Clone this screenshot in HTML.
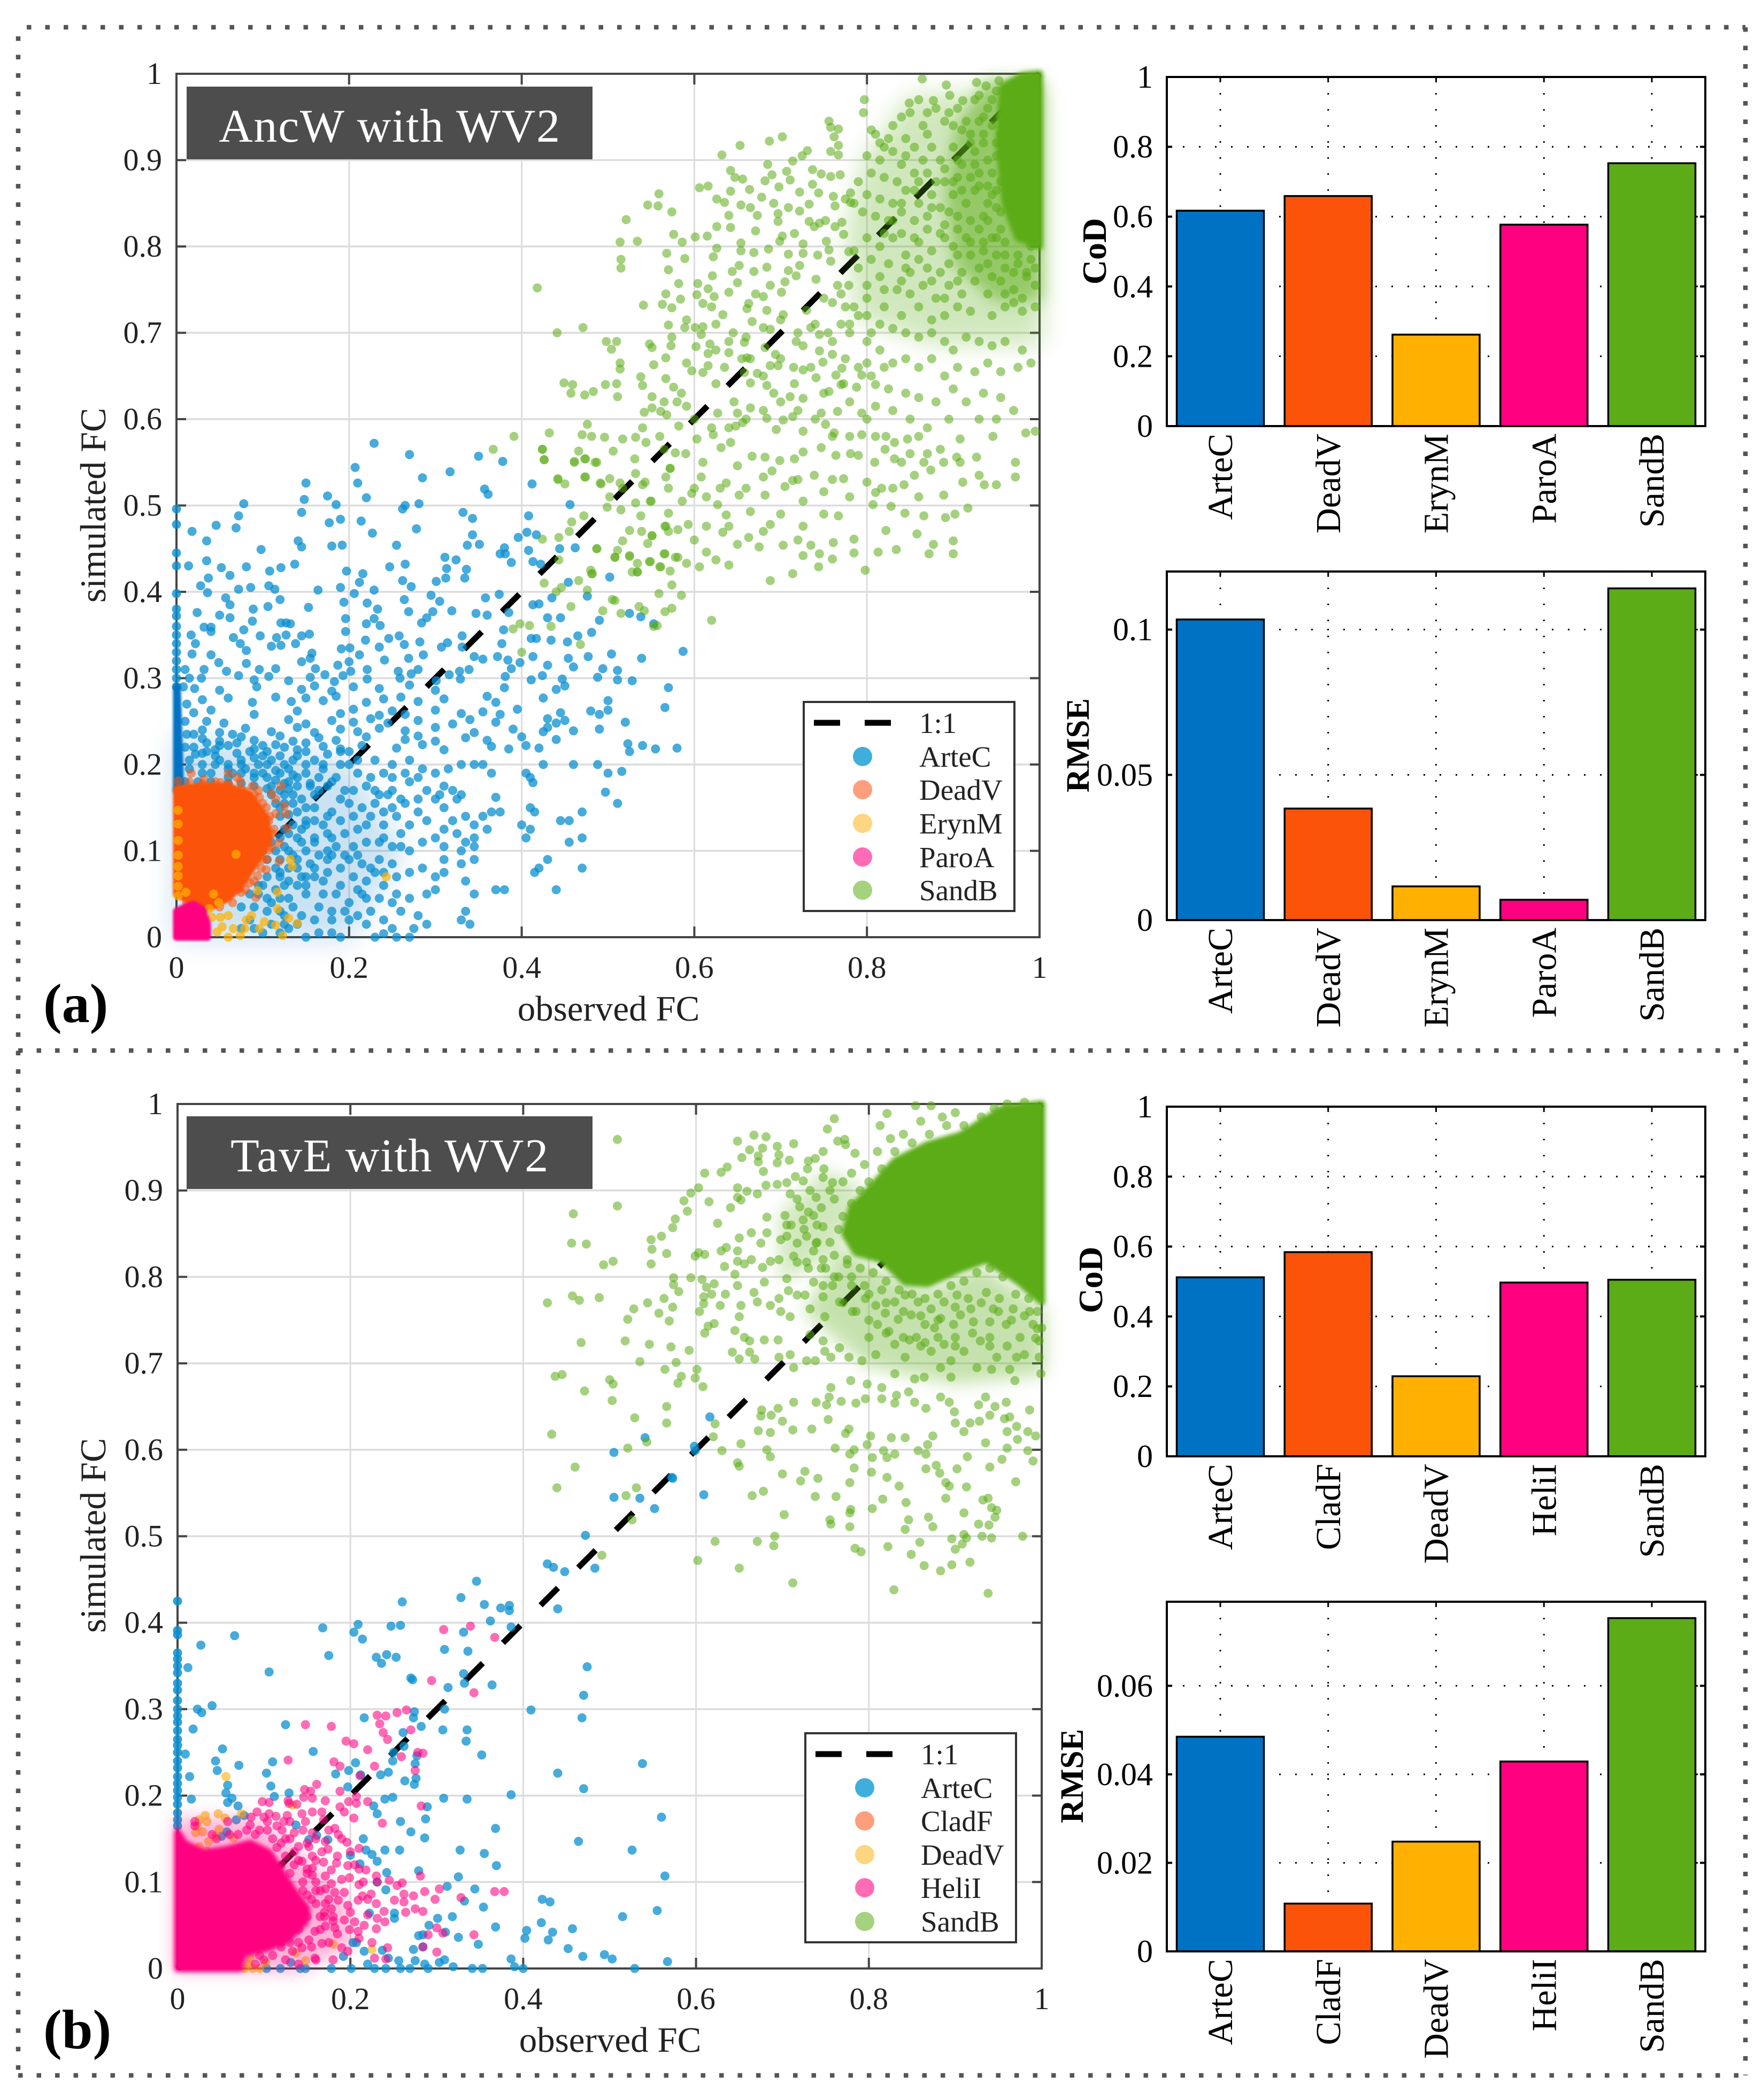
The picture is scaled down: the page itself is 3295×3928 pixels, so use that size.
<!DOCTYPE html>
<html lang="en">
<head>
<meta charset="utf-8">
<title>Observed versus simulated FC scatter plots with CoD and RMSE bars</title>
<style>
html,body{margin:0;padding:0;background:#fff}
svg{display:block}
text{font-family:"Liberation Serif","DejaVu Serif",serif;fill:#222}
</style>
</head>
<body>
<svg id="figure" xmlns="http://www.w3.org/2000/svg" width="3295" height="3928" viewBox="0 0 3295 3928">
<rect width="3295" height="3928" fill="#fff"/>
<g id="frame" stroke="#555" stroke-width="8.5" stroke-dasharray="8.5 26" fill="none">
<line x1="50" y1="51" x2="3264" y2="51"/>
<line x1="34" y1="68" x2="34" y2="3882"/>
<line x1="3264" y1="51" x2="3264" y2="3882"/>
<line x1="34" y1="3882" x2="3264" y2="3882"/>
<line x1="34" y1="1965" x2="3264" y2="1965"/>
</g>
<g id="layerA"></g>
<g id="layerB"></g>
<g id="layerBars"></g>

<g>
<rect x="349" y="162" width="759" height="136" fill="#4d4d4d"/>
<text x="729" y="265" font-size="88" letter-spacing="1.7" text-anchor="middle" style="fill:#fff">AncW with WV2</text>
</g>
<g>
<rect x="349" y="2088" width="759" height="136" fill="#4d4d4d"/>
<text x="729" y="2191" font-size="88" letter-spacing="1.7" text-anchor="middle" style="fill:#fff">TavE with WV2</text>
</g>

<text font-size="68" text-anchor="middle" transform="translate(197 945) rotate(-90)">simulated FC</text>
<text x="1138" y="1909" font-size="67" text-anchor="middle">observed FC</text>
<text font-size="68" text-anchor="middle" transform="translate(197 2872) rotate(-90)">simulated FC</text>
<text x="1141" y="3838" font-size="67" text-anchor="middle">observed FC</text>

<text x="81" y="1912" font-size="104" font-weight="bold" style="fill:#000">(a)</text>
<text x="81" y="3831" font-size="104" font-weight="bold" style="fill:#000">(b)</text>

<text font-size="64" font-weight="bold" text-anchor="middle" transform="translate(2068 470) rotate(-90)" style="fill:#000">CoD</text>
<text font-size="61" font-weight="bold" text-anchor="middle" transform="translate(2036 1394) rotate(-90)" style="fill:#000">RMSE</text>
<text font-size="64" font-weight="bold" text-anchor="middle" transform="translate(2061 2394) rotate(-90)" style="fill:#000">CoD</text>
<text font-size="61" font-weight="bold" text-anchor="middle" transform="translate(2025 3322) rotate(-90)" style="fill:#000">RMSE</text>

<g font-size="55">
<rect x="1503" y="1313" width="394" height="391" fill="#fff" stroke="#333" stroke-width="4"/>
<line x1="1522" y1="1352" x2="1668" y2="1352" stroke="#000" stroke-width="11" stroke-dasharray="49 46"/>
<text x="1719" y="1371">1:1</text>
<circle cx="1613" cy="1415" r="18" fill="#40aedc"/>
<text x="1719" y="1434">ArteC</text>
<circle cx="1613" cy="1477" r="18" fill="#fd9f7c"/>
<text x="1719" y="1496">DeadV</text>
<circle cx="1613" cy="1540" r="18" fill="#fed580"/>
<text x="1719" y="1559">ErynM</text>
<circle cx="1613" cy="1603" r="18" fill="#ff6cb5"/>
<text x="1719" y="1622">ParoA</text>
<circle cx="1613" cy="1665" r="18" fill="#a5d27f"/>
<text x="1719" y="1684">SandB</text>
</g>
<g font-size="55">
<rect x="1506" y="3242" width="394" height="391" fill="#fff" stroke="#333" stroke-width="4"/>
<line x1="1525" y1="3281" x2="1671" y2="3281" stroke="#000" stroke-width="11" stroke-dasharray="49 46"/>
<text x="1722" y="3300">1:1</text>
<circle cx="1617" cy="3344" r="18" fill="#40aedc"/>
<text x="1722" y="3363">ArteC</text>
<circle cx="1617" cy="3406" r="18" fill="#fd9f7c"/>
<text x="1722" y="3425">CladF</text>
<circle cx="1617" cy="3469" r="18" fill="#fed580"/>
<text x="1722" y="3488">DeadV</text>
<circle cx="1617" cy="3531" r="18" fill="#ff6cb5"/>
<text x="1722" y="3550">HeliI</text>
<circle cx="1617" cy="3594" r="18" fill="#a5d27f"/>
<text x="1722" y="3613">SandB</text>
</g>
</svg>
<script>
// Tick labels
const scatterXTicks = [0, 0.2, 0.4, 0.6, 0.8, 1];
const scatterYTicks = [0, 0.1, 0.2, 0.3, 0.4, 0.5, 0.6, 0.7, 0.8, 0.9, 1];
const codTicks = [0, 0.2, 0.4, 0.6, 0.8, 1];
const rmseTicksA = [0, 0.05, 0.1];
const rmseTicksB = [0, 0.02, 0.04, 0.06];

// Bar chart data
const categoriesA = ['ArteC', 'DeadV', 'ErynM', 'ParoA', 'SandB'];
const categoriesB = ['ArteC', 'CladF', 'DeadV', 'HeliI', 'SandB'];
const codValuesA = [0.617, 0.659, 0.262, 0.577, 0.753];
const rmseValuesA = [0.1035, 0.0384, 0.0116, 0.0070, 0.1142];
const codValuesB = [0.512, 0.584, 0.229, 0.497, 0.505];
const rmseValuesB = [0.0485, 0.0108, 0.0248, 0.0429, 0.0753];

// Scatter data: flat x,y pairs in FC units. Panel (a)
const artecStripYA = [.496,.478,.445,.43,.398,.38,.372,.36,.35,.34,.33,.32,.31,.3,.29];
const artecCoreA = [0,.29, .001,.29, .005,.17, 0,.17];
const artecHazeA = [0,.23, .1,.22, .2,.2, .26,.1, .2,0, .05,0, 0,0];
const artecA = [
.229,.572,.27,.559,.35,.557,.378,.551,.317,.539,.207,.544,.21,.526,.285,.532,.15,.526,.148,.507,.175,.511,.22,.509,.357,.519,.361,.513,.412,.525,.078,.502,.185,.501,.265,.5,.262,.496,.281,.502,.456,.501,.072,.488,.145,.492,.332,.492,.343,.485,.408,.488,.177,.48,.19,.484,.214,.482,.046,.477,.069,.474,.278,.473,.018,.47,.227,.468,.343,.466,.406,.469,.417,.466,.396,.463,.035,.459,.141,.459,.145,.452,.18,.453,.192,.454,.255,.454,.337,.454,.351,.455,.098,.449,.38,.451,.375,.444,.381,.444,.408,.448,.444,.45,.462,.451,.311,.44,.324,.437,.035,.436,.137,.432,.388,.434,.413,.435,.422,.432,.014,.43,.052,.428,.081,.429,.121,.428,.108,.424,.197,.424,.247,.429,.265,.432,.313,.427,.336,.426,.037,.416,.062,.419,.216,.421,.312,.416,.301,.412,.334,.416,.212,.411,.262,.413,.272,.406,.454,.411,.502,.417,.028,.407,.036,.399,.072,.403,.086,.405,.107,.407,.114,.403,.164,.402,.19,.405,.229,.402,.206,.398,.374,.397,.295,.396,.435,.393,.476,.395,.057,.393,.062,.385,.12,.391,.194,.388,.221,.387,.233,.38,.264,.391,.305,.389,.358,.393,.413,.385,.42,.386,.385,.376,.024,.376,.05,.373,.089,.38,.106,.383,.153,.382,.196,.369,.269,.377,.297,.377,.319,.378,.347,.375,.062,.37,.088,.366,.229,.369,.29,.37,.284,.364,.445,.37,.36,.373,.43,.37,.49,.367,.525,.375,.538,.371,.553,.363,.121,.364,.127,.364,.132,.363,.22,.363,.236,.361,.032,.359,.04,.359,.078,.356,.196,.354,.379,.356,.481,.353,.017,.35,.04,.354,.097,.349,.116,.347,.127,.35,.145,.349,.154,.351,.066,.347,.074,.34,.219,.344,.246,.346,.258,.349,.331,.349,.417,.346,.434,.344,.465,.349,.022,.34,.018,.328,.11,.337,.121,.338,.138,.34,.191,.334,.201,.335,.212,.327,.235,.336,.264,.339,.282,.342,.314,.341,.307,.336,.331,.336,.377,.34,.411,.346,.453,.342,.504,.328,.539,.323,.587,.331,.04,.327,.049,.318,.081,.332,.157,.329,.241,.321,.269,.323,.286,.327,.345,.325,.355,.322,.372,.325,.384,.321,.398,.318,.413,.325,.454,.323,.477,.325,.145,.319,.155,.323,.187,.315,.2,.319,.202,.308,.221,.31,.257,.308,.032,.31,.058,.308,.081,.317,.096,.31,.115,.311,.161,.311,.172,.304,.28,.31,.328,.308,.339,.31,.388,.311,.43,.315,.46,.313,.494,.311,.511,.309,
.029,.3,.072,.303,.09,.298,.107,.302,.13,.297,.155,.301,.183,.296,.193,.303,.221,.299,.259,.3,.272,.305,.301,.297,.316,.304,.329,.299,.381,.302,.411,.298,.424,.303,.447,.299,.488,.301,.511,.298,.528,.297,
.021,.288,.05,.286,.093,.29,.145,.287,.16,.291,.18,.285,.205,.29,.235,.288,.27,.292,.3,.286,.38,.289,.44,.287,.45,.291,.57,.289,.03,.275,.06,.277,.088,.272,.115,.278,.133,.273,.15,.277,.17,.274,.185,.279,.22,.272,.24,.276,.26,.278,.28,.273,.31,.276,.36,.279,.37,.272,.425,.277,.5,.274,.566,.266,
.02,.26,.04,.263,.09,.258,.14,.262,.19,.259,.205,.264,.235,.257,.25,.262,.265,.258,.3,.263,.33,.259,.355,.261,.375,.258,.395,.264,.445,.26,.48,.262,.49,.258,.5,.263,.035,.25,.055,.248,.13,.252,.15,.247,.18,.251,.205,.249,.225,.253,.245,.248,.28,.251,.32,.247,.34,.252,.37,.249,.43,.253,.44,.248,.45,.251,.52,.249,
.03,.24,.05,.237,.08,.242,.11,.238,.14,.243,.16,.237,.19,.241,.21,.238,.235,.242,.265,.239,.3,.243,.345,.237,.39,.241,.425,.238,.43,.243,.46,.239,.49,.241,.03,.23,.05,.227,.075,.232,.09,.228,.12,.233,.135,.227,.165,.231,.185,.228,.22,.232,.265,.229,.28,.233,.3,.227,.335,.231,.36,.228,.4,.232,.44,.229,.523,.224,
.02,.22,.045,.217,.06,.222,.09,.218,.115,.223,.14,.217,.17,.221,.19,.218,.215,.222,.255,.219,.285,.223,.31,.217,.365,.221,.385,.218,.405,.222,.42,.219,.525,.215,.54,.222,.555,.218,.58,.219,
.03,.213,.05,.205,.07,.213,.09,.208,.105,.215,.125,.2,.14,.21,.16,.205,.175,.212,.19,.2,.2,.2,.015,.195,.04,.19,.065,.19,.08,.195,.1,.19,.115,.193,.135,.188,.15,.19,.165,.185,.185,.185,.21,.19,.225,.185,.24,.19,.25,.185,.265,.19,.28,.185,.3,.19,.315,.195,.33,.2,.345,.2,.355,.2,.365,.19,.405,.19,.41,.185,.413,.179,.425,.2,.46,.2,.488,.2,.5,.19,.516,.192,.497,.168,.511,.155,
.11,.165,.13,.172,.145,.16,.16,.165,.175,.175,.19,.16,.205,.17,.22,.175,.235,.165,.25,.17,.27,.18,.29,.17,.31,.175,.305,.165,.32,.17,.33,.165,.125,.155,.14,.145,.16,.15,.18,.145,.2,.155,.215,.15,.23,.155,.25,.15,.265,.155,.28,.145,.3,.16,.31,.15,.325,.16,.37,.162,.365,.145,.375,.145,.41,.15,.415,.145,.12,.14,.135,.13,.15,.135,.17,.13,.19,.135,.21,.125,.225,.14,.24,.13,.255,.14,.27,.13,.29,.135,.31,.125,.32,.135,.335,.14,.345,.13,.355,.14,.36,.125,.4,.13,.41,.125,.445,.135,.455,.135,.47,.145,.47,.115,.455,.11,.405,.115,.325,.12,.335,.11,.345,.115,
.13,.12,.145,.11,.16,.115,.175,.1,.185,.105,.205,.105,.22,.11,.24,.115,.25,.105,.27,.1,.285,.11,.3,.115,.31,.105,.33,.1,.345,.105,.31,.09,.33,.085,.345,.09,.43,.09,.42,.08,.415,.075,.47,.08,.44,.055,.13,.1,.14,.09,.155,.085,.175,.09,.19,.08,.2,.09,.215,.085,.235,.09,.25,.085,.27,.075,.285,.08,.3,.07,.31,.075,.335,.065,.345,.05,.37,.055,.38,.055,
.1,.06,.12,.07,.14,.06,.15,.07,.17,.065,.19,.06,.205,.07,.22,.065,.24,.06,.255,.05,.27,.045,.29,.05,.3,.055,.335,.03,.33,.02,.34,.015,.095,.05,.11,.04,.13,.045,.15,.05,.165,.035,.185,.05,.2,.04,.22,.045,.225,.03,.26,.03,.28,.025,.275,.01,.29,.015,.105,.03,.125,.025,.145,.025,.16,.02,.18,.02,.2,.02,.22,.015,.24,.02,.25,.01,.13,.01,.15,0,.165,.005,.18,.005,.19,0,.23,0,.24,.004,.255,0,.27,0,.12,.005,.11,.015,.1,.005,
.012,.235,.022,.212,.035,.225,.065,.235,.1,.222,.085,.215,.12,.21,.15,.215,.06,.2,.03,.2,.045,.21,.075,.2,.095,.2,.11,.205,.13,.195,.15,.2,.17,.195,.135,.205,.115,.182,.125,.178,.14,.175,.155,.178,.105,.185,.09,.185,.075,.19,.06,.185,.125,.165,.135,.155,.15,.15,.11,.175,.12,.15,.13,.142,.145,.125,.16,.135,.175,.12,.125,.125,.14,.115,.15,.1,.12,.09,.13,.08,.145,.07,.125,.06,.115,.055,.135,.035,.12,.03,.14,.015,.125,.015,.16,.08,.165,.095,.18,.115,.195,.12,.17,.05,.21,.055,.23,.075,.205,.14,.24,.145,.26,.12,
.1,.1,.11,.11,.115,.1,.12,.115,.125,.105,.105,.09,.115,.08,.105,.07,.095,.06,.085,.05,.075,.035,.09,.035,.085,.02,.075,.01,.09,.01,.105,.045,.12,.045,.13,.065,.12,.075,.14,.08,.15,.06,.16,.07,.175,.075,.135,.095,.15,.13,.16,.11,.175,.14,.135,.165,.12,.17,.115,.155,.13,.18,.14,.185,.155,.175,.165,.17,.18,.18,.195,.17,.12,.19,.105,.2,.09,.19,.075,.205,.06,.195,.045,.2,.03,.19,.015,.205,.01,.18,.025,.18,.04,.18,.06,.178,.075,.178,.09,.175,.105,.172,.01,.22,.01,.25,.012,.27,.008,.29,.015,.3,.01,.31,.02,.235,.035,.215,.05,.222,.07,.225,.1,.21,.125,.22,.15,.225,.17,.2,.19,.215,.2,.215,.21,.205,.23,.205,.25,.2,.27,.205,.285,.195,.23,.17,.245,.165,.26,.16,.28,.16,.22,.13,.235,.11,.26,.105,.18,.095,.195,.095,.21,.095,.225,.08,.24,.075,.255,.07,.18,.03,.195,.03,.21,.025,.215,.05,.235,.045,.25,.04];
const deadVCoreA = [0,.172, .03,.175, .06,.175, .085,.165, .103,.14, .108,.115, .098,.095, .088,.08, .075,.06, .06,.045, .04,.035, .02,.04, 0,.05];
const deadVA = [.017,.19,.06,.19,.074,.181,.088,.175,.121,.175,.11,.167,.125,.152,.127,.143,.128,.126,.119,.109,.111,.12,.107,.101,.119,.088,.094,.071,.104,.078,.085,.063,.075,.052,.092,.046,.072,.056,.002,.181,.032,.183,.051,.179,.081,.169,.096,.162,.104,.15,.115,.143,.107,.135,.085,.097,.1,.09,.081,.082,.074,.071,
.015,.18,.03,.178,.045,.18,.06,.178,.075,.172,.09,.165,.1,.155,.108,.14,.113,.125,.11,.105,.105,.09,.098,.08,.09,.065,.08,.055,.065,.04,.05,.035,.03,.03,.012,.04,.07,.185,.095,.17,.115,.16];
const erynMA = [.069,.096,.002,.147,.002,.131,.002,.112,.002,.095,.002,.082,.002,.071,.002,.059,.002,.048,.011,.052,.043,.05,.049,.04,.041,.023,.051,.023,.06,.025,.038,.033,.053,.012,.066,.01,.047,.006,.06,0,.074,.002,.081,.02,.079,.01,.094,.054,.117,.052,.117,.033,.102,.018,.115,.014,.132,.09,.134,.082,.243,.07,.14,.016,.13,.022,.087,.025,.096,.01,.123,.002];
const paroACoreA = [0,.03, .012,.036, .02,.038, .03,.032, .036,.015, .036,0, 0,0];
const sandBHazeOuterA = [.85,.97, .8,.9, .78,.82, .79,.72, .88,.69, 1,.69, 1,.98];
const sandBHazeInnerA = [.94,.99, .905,.93, .895,.86, .905,.78, .95,.74, 1,.74, 1,.99];
const sandBCoreA = [.957,.985, .98,.998, 1,1, 1,.8, .975,.81, .96,.85, .953,.92];
const sandBA = [
.864,.994,.892,.987,.797,.97,.796,.955,.849,.966,.877,.969,.896,.975,.911,.969,.927,.99,.938,.986,.953,.992,.756,.945,.758,.938,.767,.936,.762,.927,.767,.917,.758,.91,.767,.906,.702,.927,.687,.922,.653,.917,.632,.906,.731,.911,.725,.905,.714,.899,.685,.895,.642,.888,.707,.887,.69,.883,.682,.876,.656,.878,.647,.88,.711,.877,.737,.889,.747,.884,.758,.881,.769,.883,.737,.872,.744,.862,.761,.858,.781,.862,.698,.869,.722,.863,.664,.866,.642,.864,.616,.87,.606,.868,.559,.861,.546,.848,.558,.847,.574,.84,.521,.831,.626,.855,.635,.851,.654,.848,.678,.857,.692,.85,.709,.845,.722,.841,.733,.849,.763,.847,.781,.851,.64,.836,.665,.845,.673,.836,.697,.838,.697,.829,.733,.829,.745,.827,.752,.83,.771,.828,.642,.822,.671,.818,.626,.823,.739,.823,.763,.823,.716,.815,.576,.814,.601,.811,.615,.812,.514,.805,.534,.806,.586,.805,.654,.804,.702,.812,.699,.806,.726,.803,.753,.806,.773,.814,
.515,.785,.515,.775,.568,.792,.589,.786,.57,.773,.622,.788,.626,.798,.654,.795,.669,.793,.686,.797,.709,.791,.726,.792,.743,.79,.756,.796,.779,.794,.652,.778,.644,.771,.669,.771,.684,.776,.709,.772,.722,.778,.758,.783,.741,.762,.718,.766,.621,.766,.604,.757,.582,.757,.65,.758,.705,.759,.766,.755,.779,.755,.688,.755,.418,.752,.616,.751,.64,.747,.567,.745,.603,.744,.623,.742,.671,.745,.701,.747,.584,.739,.541,.732,.563,.733,.574,.729,.61,.734,.62,.73,.663,.734,.68,.742,.661,.728,.684,.726,.75,.74,.73,.726,.703,.721,.633,.721,.667,.713,.625,.71,.591,.715,.57,.709,.589,.706,.601,.706,.61,.707,.68,.706,.688,.704,.735,.706,.471,.706,.441,.7,.498,.69,.51,.69,.504,.681,.574,.695,.608,.698,.548,.687,.551,.683,.573,.685,.602,.684,.618,.687,.64,.69,.658,.689,.682,.683,.718,.69,.745,.698,.567,.671,.616,.676,.64,.677,.661,.671,.694,.675,.726,.685,.745,.679,.76,.675,.514,.665,.514,.658,.553,.663,.591,.665,.597,.656,.616,.662,.665,.67,.688,.662,.697,.662,.749,.666,.771,.659,.794,.651,.538,.649,.567,.647,.61,.654,.625,.641,.658,.654,.673,.653,.726,.657,.741,.648,.764,.651,.449,.642,.459,.64,.457,.63,.473,.628,.483,.632,.497,.64,.51,.641,.511,.626,.54,.639,.551,.626,.576,.637,.665,.642,.684,.639,.716,.641,.773,.641,.788,.637,.692,.63,.711,.626,.726,.624,.756,.632,.646,.62,.58,.62,.542,.608,.561,.609,.568,.605,.551,.613,.591,.615,.627,.607,.65,.607,.665,.613,.684,.601,.703,.599,.714,.603,.747,.607,.766,.609,.794,.607,.476,.594,.432,.584,.47,.582,.481,.58,.496,.579,.517,.577,.532,.579,.544,.573,.582,.592,.622,.582,.648,.592,.656,.596,.695,.588,.726,.586,.752,.594,.762,.584,.794,.582,.424,.565,.466,.563,.426,.553,.461,.551,.474,.554,.485,.55,.506,.563,.531,.554,.565,.565,.578,.561,.603,.577,.631,.567,.642,.573,.667,.557,.682,.556,.699,.552,.716,.554,.726,.562,.747,.567,.764,.558,.781,.56,.79,.558,
.822,.58,.832,.573,.821,.565,.847,.577,.885,.565,.908,.577,.946,.58,.984,.584,.995,.586,.809,.55,.832,.554,.866,.55,.889,.55,.904,.556,.927,.556,.972,.55,.972,.533,.908,.55,.855,.535,.874,.541,.817,.52,.843,.524,.911,.527,.93,.535,.95,.524,.936,.524,.889,.512,.917,.497,.828,.499,.807,.501,.844,.491,.866,.488,.891,.486,.902,.49,.822,.471,.858,.467,.813,.446,.834,.449,.872,.444,.877,.455,.9,.459,.9,.444,.785,.461,.785,.445,.798,.425,.76,.438,.761,.457,.745,.444,.744,.429,.726,.476,.726,.442,.714,.421,.735,.454,.703,.454,.688,.478,.675,.452,.663,.463,.65,.455,.665,.493,.64,.476,.633,.469,.652,.512,.682,.512,.705,.522,.726,.505,.767,.488,.75,.516,.8,.527,.773,.531,.739,.535,.714,.529,.68,.533,.65,.546,.637,.526,.614,.51,.608,.533,.572,.543,.567,.533,.54,.524,.502,.531,.474,.533,.442,.531,.491,.526,.514,.526,.55,.505,.586,.505,.597,.514,.627,.501,.637,.489,.57,.491,.614,.476,.593,.478,.567,.476,.546,.456,.517,.459,.487,.45,.508,.44,.525,.441,.551,.465,.578,.44,.565,.444,.614,.446,.606,.429,.591,.433,.625,.437,.64,.431,.548,.435,.534,.423,.561,.429,.481,.421,.688,.413,
.81,.93,.83,.94,.85,.955,.865,.94,.88,.96,.89,.945,.905,.96,.915,.945,.93,.975,.92,.93,.94,.96,.95,.98,.955,.95,.91,.935,.87,.93,.845,.925,.815,.92,.805,.935,.8,.905,.815,.9,.83,.91,.84,.895,.855,.915,.865,.9,.875,.915,.885,.9,.9,.915,.91,.895,.925,.91,.935,.93,.94,.9,.95,.92,.945,.885,.93,.885,.905,.88,.89,.875,.87,.885,.855,.885,.835,.875,.82,.88,.805,.885,.79,.875,.8,.86,.815,.855,.83,.85,.845,.865,.86,.85,.875,.86,.885,.845,.9,.86,.915,.85,.925,.865,.94,.85,.95,.865,.955,.84,.935,.835,.92,.83,.905,.835,.89,.825,.87,.835,.855,.83,.84,.84,.825,.83,.81,.835,.795,.84,.785,.85,.775,.855,.8,.81,.815,.8,.83,.81,.845,.79,.86,.805,.875,.795,.89,.81,.905,.79,.92,.805,.935,.795,.95,.81,.96,.79,.975,.79,.99,.785,.94,.78,.91,.77,.895,.78,.87,.775,.85,.77,.825,.78,.805,.785,.79,.775,.785,.795,.8,.755,.815,.765,.835,.75,.85,.745,.865,.755,.88,.74,.895,.755,.91,.745,.925,.76,.94,.745,.955,.76,.97,.75,.985,.765,.995,.755,.96,.73,.98,.725,.995,.73,.945,.72,.92,.725,.905,.73,.89,.72,.875,.715,.86,.73,.84,.72,.82,.73,.8,.72,.785,.73,.775,.73,.77,.745,.76,.735,.77,.71,.78,.71,.83,.705,.845,.7,.86,.695,.875,.7,.89,.69,.9,.68,.915,.695,.93,.69,.945,.685,.96,.69,.98,.68,.99,.665,.975,.66,.955,.655,.94,.665,.925,.655,.905,.66,.89,.65,.875,.67,.86,.66,.845,.67,.83,.665,.815,.68,.8,.665,.81,.64,.825,.635,.845,.63,.86,.625,.88,.62,.9,.635,.915,.62,.935,.63,.955,.625,.97,.61,.895,.6,.87,.59,.85,.6,.83,.61,.81,.615,.93,.6,.95,.6,.8,.6,.86,.58,
.499,.498,.45,.525,.455,.47,.508,.39,.515,.375,.553,.36,.62,.367,.48,.425,.44,.4,
.424,.461,.443,.463,.426,.41,.446,.405,.466,.413,.476,.402,.457,.383,.505,.391,.494,.378,.536,.383,.542,.378,.566,.377,.574,.381,.39,.357,.398,.363,.409,.361,.434,.36,.468,.339,.4,.33,.557,.361,.559,.398,.574,.408,.585,.396,.528,.423,.534,.423,.549,.435,.534,.433,.56,.429,.572,.424,.508,.44,.525,.442,.566,.444,.581,.44,.511,.448,.487,.45,.443,.437,.482,.421,.539,.47,.551,.465,.566,.476,.581,.472,.525,.471,.515,.495,.532,.503,.549,.505,.538,.488,.458,.481,.472,.488,.502,.51,.532,.537,.543,.527,.572,.543,.517,.52,.391,.58,.367,.565,.424,.565,.426,.553,.442,.53,.473,.533,.492,.525,.461,.55,.473,.554,.487,.55,
.925,.97,.935,.95,.945,.97,.93,.945,.945,.94,.955,.93,.935,.92,.95,.905,.94,.87,.955,.875,.945,.86,.93,.87,.95,.845,.94,.83,.955,.82,.93,.82,.945,.81,.935,.805,.95,.79,.96,.805,.975,.78,.985,.77,.97,.77,.96,.775,.99,.8,.995,.775,.98,.74,.97,.735,.96,.745,.945,.765,.93,.775,.92,.79,.915,.81,.905,.82,.91,.865,.92,.88,.905,.9,.92,.92,.925,.895,.9,.875,.89,.89,.88,.875,.9,.94,.895,.955,.87,.955,.86,.97,.84,.95,.825,.925,.82,.915,.845,.905,.86,.875,.855,.865,.84,.85,.83,.83,.82,.815,.84,.815,.855,.81,.87,.82,.885,.815,.875,.845,.895,.84,.9,.8,.885,.77,.86,.785,.845,.775,.84,.76,.82,.75,.8,.74,.875,.76,.89,.74,.905,.76,
.78,.7,.76,.69,.79,.72,.805,.7,.74,.71,.72,.7,.7,.715,.755,.7,.8,.69,.815,.71,.775,.67,.79,.66,.805,.65,.82,.66,.77,.64,.78,.62,.75,.63,.735,.66,.715,.66,.7,.67,.68,.65,.655,.67,.635,.66,.625,.68,.645,.7,.66,.695,.74,.6,.72,.61,.7,.62,.68,.61,.66,.6,.64,.59,.62,.59,.6,.6,.585,.63,.565,.62,.54,.59,.56,.58,.59,.56,.61,.55,.76,.58,.78,.58,.81,.58,.84,.55,.85,.56,.87,.56,.76,.53,.72,.53,.69,.54,.66,.52,.63,.52,.6,.52,.57,.52,.75,.49,.78,.51,.81,.515,.83,.52,.86,.51,.7,.49,.68,.47,.72,.46,.6,.46,.57,.47];

// Panel (b)
const artecStripYB = [.425,.391,.386,.365,.358,.35,.342,.33,.322,.31,.3,.292,.285,.275,.265,.258,.25,.24,.232,.222,.214,.206,.198,.19,.18,.172,.165];
const artecB = [
.616,.638,.541,.614,.505,.597,.598,.604,.599,.599,.609,.548,.573,.567,.505,.545,.535,.544,.552,.532,.472,.501,.428,.468,.435,.464,.448,.459,.483,.463,.44,.416,
.572,.568,.26,.424,.328,.429,.355,.421,.374,.417,.384,.42,.384,.414,.346,.448,.362,.402,.386,.395,.066,.385,.168,.394,.209,.398,.204,.389,.214,.381,.247,.396,.258,.397,.331,.389,.027,.374,.175,.362,.242,.363,.23,.36,.253,.36,.236,.353,.309,.369,.336,.367,.474,.349,.012,.348,.106,.343,.331,.341,.27,.336,.272,.334,.332,.33,.313,.325,.364,.328,.47,.316,.04,.304,.023,.3,.028,.296,.409,.299,.274,.297,.273,.29,.216,.29,.309,.3,.468,.29,.125,.282,.018,.277,.282,.28,.307,.276,.335,.276,.261,.273,.334,.263,.052,.254,.157,.251,.25,.25,.262,.257,.009,.248,.277,.246,.352,.247,.538,.237,.044,.24,.11,.239,.071,.235,.046,.229,.249,.24,.275,.237,.206,.238,.198,.229,.44,.226,.103,.226,.183,.225,.235,.224,.244,.227,.212,.224,.276,.22,.014,.222,.263,.217,.274,.213,.058,.212,.108,.211,.47,.208,.056,.203,.112,.199,.129,.203,.197,.21,.386,.201,.016,.196,.308,.197,.335,.196,.24,.196,.249,.198,.063,.197,.058,.192,.07,.188,.289,.187,.227,.188,.231,.179,.56,.175,.077,.177,.068,.172,.258,.17,.287,.173,.368,.162,.27,.158,.057,.158,.051,.153,.137,.166,.152,.149,.161,.154,.174,.149,.286,.151,.215,.15,.464,.147,.526,.137,.24,.137,.257,.137,.327,.137,.218,.137,.225,.132,.2,.131,.231,.124,.355,.133,.211,.121,.369,.119,.279,.113,.242,.111,.325,.106,.564,.107,.231,.1,.312,.095,.344,.092,.241,.091,.422,.08,.431,.077,.332,.078,.354,.071,.251,.064,.515,.06,.555,.067,.301,.058,.318,.06,.251,.058,.222,.064,.291,.05,.368,.048,.421,.053,.457,.046,.404,.044,.402,.035,.434,.042,.429,.033,.325,.036,.279,.038,.284,.039,.31,.042,.348,.028,.207,.03,.203,.03,.452,.023,.469,.014,.494,.016,.503,.011,.567,.008,.386,.011,.39,.002,.4,0,.529,0,.273,.022,.284,.025,.216,.02,.237,.021,.192,.014,.244,.012,.256,.009,.275,.009,.286,.005,.303,.007,.309,.01,.22,.005,.178,0,.131,.007,.142,0,.148,0,.103,0,.119,0,.201,0,.228,0,.241,0,.258,0,.269,0,.29,0,.319,.002,.341,0,.353,0];
const cladFB = [.02,.03,.05,.06,.08,.04];
const deadVB = [.056,.222,.032,.177,.047,.179,.055,.174,.025,.172,.034,.17,.074,.179,.023,.164,.048,.161,.021,.157,.029,.158,.036,.147,.044,.153,.025,.141,.034,.136,.023,.132,.03,.128,.038,.126,.027,.122,.036,.12,.044,.128,.065,.151,.015,.138,.133,.189,.137,.018,.18,.028,.084,.012,.082,.005,.087,0,.078,0,.102,.007,.148,.009,.225,.022,.095,0];
const heliIHazeB = [0,.17, .09,.17, .13,.14, .19,.08, .2,.03, .14,0, 0,0];
const heliICoreB = [0,.158, .008,.145, .03,.134, .057,.138, .084,.145, .106,.134, .118,.115, .133,.092, .15,.069, .148,.054, .129,.035, .106,.024, .076,.017, .072,0, 0,0];
const heliIB = [.308,.392,.339,.396,.367,.383,.294,.333,.343,.319,.148,.282,.178,.28,.231,.293,.241,.292,.254,.296,.265,.299,.234,.283,.238,.273,.243,.265,.27,.276,.195,.263,.204,.26,.22,.253,.278,.25,.284,.249,.259,.245,.128,.241,.181,.239,.188,.234,.228,.234,.275,.229,.211,.223,.161,.213,.147,.207,.154,.205,.188,.205,.207,.199,.146,.198,.156,.197,.128,.194,.098,.193,.106,.192,.198,.193,.22,.193,.129,.191,.138,.19,.171,.194,.282,.188,.188,.187,.092,.181,.106,.179,.114,.176,.127,.177,.144,.179,.156,.181,.167,.181,.193,.181,.207,.191,.204,.174,.237,.168,.104,.17,.123,.17,.148,.17,.169,.172,.182,.162,.186,.155,.058,.17,.084,.166,.121,.16,.104,.16,.135,.157,.156,.157,.171,.147,.152,.141,.14,.141,.167,.135,.196,.146,.21,.139,.174,.138,.156,.13,.144,.124,.184,.122,.197,.119,.156,.116,.169,.123,.178,.114,.218,.114,.23,.107,.245,.102,.281,.107,.156,.108,.171,.107,.19,.103,.199,.105,.21,.097,.231,.1,.254,.096,.26,.099,.178,.098,.182,.088,.171,.092,.193,.088,.214,.084,.224,.086,.262,.086,.273,.084,.286,.089,.303,.092,.367,.089,.378,.089,.328,.082,.298,.08,.251,.079,.262,.077,.186,.079,.171,.075,.197,.073,.209,.079,.178,.069,.275,.069,.284,.066,.264,.065,.239,.066,.22,.062,.231,.058,.24,.054,.193,.056,.205,.054,.216,.05,.23,.046,.199,.045,.209,.043,.182,.047,.171,.049,.29,.039,.307,.041,.343,.039,.3,.047,.159,.043,.152,.033,.167,.029,.144,.024,.19,.024,.197,.02,.243,.024,.284,.025,.3,.019,.228,.012,.241,.011,.159,.012,.133,.02,
.125,.15,.14,.125,.15,.115,.135,.135,.12,.145,.165,.09,.16,.1,.17,.065,.18,.055,.165,.06,.145,.1,.15,.085,.16,.075,.155,.025,.14,.03,.12,.03,.095,.015,.1,.175,.115,.14,.13,.15,.15,.145,.16,.125,.07,.155,.09,.155,.045,.15,.02,.165,
.12,.12,.13,.11,.145,.09,.155,.08,.17,.06,.165,.045,.15,.06,.14,.045,.13,.03,.12,.025,.11,.015,.1,.01,.09,.005,.095,.16,.11,.15,.08,.16,.06,.155,.04,.155,.02,.17,.085,.175,.125,.13,.135,.12,.15,.11,.16,.09,.175,.08,.18,.06,.185,.04,.175,.03,.16,.01,.14,.005,.125,.01,.115,.165,.13,.17,.145,.16,.16,.15,.175,.16,.19,.15,.185,.13,.2,.135,.205,.12,.21,.115,.215,.1,.22,.08,.23,.075,.2,.065,.21,.035,.225,.03,.18,.01];
const sandBHazeLowB = [.77,.83, .82,.8, .87,.78, .93,.81, 1,.76, 1,.69, .9,.68, .8,.7, .73,.76];
const sandBHazeLeftB = [.7,.87, .75,.92, .79,.9, .76,.83, .7,.8];
const sandBCoreB = [.792,.892, .83,.934, .868,.953, .906,.964, .955,.995, 1,1, 1,.771, .974,.794, .936,.82, .906,.809, .868,.792, .842,.794, .815,.82, .785,.828, .772,.85, .78,.88];
const sandBB = [
.509,.959,.509,.882,.458,.873,.456,.839,.473,.838,.493,.814,.504,.818,.428,.77,.457,.778,.465,.773,.488,.776,.467,.724,.437,.685,.445,.687,.471,.668,.433,.618,.46,.58,.439,.556,.5,.681,.504,.676,.503,.657,.518,.726,.529,.637,.566,.65,.566,.631,.521,.602,.543,.609,.519,.547,.531,.556,.526,.519,
.76,.983,.752,.971,.821,.989,.813,.975,.854,.998,.872,.998,.667,.964,.681,.962,.648,.957,.662,.947,.677,.949,.694,.951,.713,.954,.653,.938,.672,.94,.672,.933,.696,.941,.694,.932,.708,.935,.73,.934,.738,.937,.747,.945,.764,.957,.772,.959,.773,.953,.784,.943,.61,.92,.629,.921,.636,.927,.678,.922,.729,.925,.748,.925,.603,.903,.594,.897,.648,.903,.659,.899,.671,.896,.681,.906,.694,.907,.705,.909,.715,.916,.724,.911,.747,.915,.758,.909,.586,.888,.59,.876,.615,.887,.64,.88,.648,.892,.652,.889,.709,.896,.717,.89,.732,.9,.739,.892,.576,.867,.573,.857,.625,.862,.682,.869,.703,.871,.705,.86,.72,.881,.724,.866,.736,.871,.548,.843,.56,.847,.549,.832,.566,.827,.548,.815,.599,.824,.603,.828,.61,.826,.629,.83,.635,.834,.648,.83,.65,.845,.664,.851,.675,.839,.682,.851,.698,.843,.705,.847,.686,.818,.696,.82,.664,.82,.677,.811,.648,.818,.656,.815,.633,.812,.717,.839,.728,.847,.736,.83,.713,.824,.747,.858,.728,.817,.747,.82,.739,.839,.717,.817,
.574,.799,.574,.791,.58,.783,.594,.799,.607,.797,.612,.788,.621,.792,.634,.78,.609,.777,.618,.78,.628,.767,.609,.769,.648,.79,.645,.803,.679,.794,.705,.798,.707,.784,.717,.779,.726,.779,.736,.794,.747,.79,.758,.79,.667,.782,.652,.767,.563,.775,.544,.77,.528,.763,.557,.758,.573,.765,.569,.749,.521,.751,.604,.76,.621,.746,.614,.743,.61,.735,.645,.738,.65,.754,.671,.771,.686,.767,.696,.775,.698,.76,.709,.754,.732,.763,.747,.777,.766,.771,.749,.754,.781,.76,.796,.775,.808,.767,.819,.758,.546,.722,.571,.719,.592,.715,.535,.702,.577,.701,.601,.693,.564,.693,.583,.685,.599,.683,.579,.677,.608,.673,.642,.713,.65,.705,.656,.73,.662,.726,.668,.705,.662,.713,.679,.727,.695,.727,.696,.707,.709,.71,.713,.695,.728,.703,.732,.733,.738,.703,.747,.726,.749,.714,.756,.707,.766,.718,.777,.707,.792,.703,.808,.71,.823,.737,.83,.722,.842,.707,.847,.727,.865,.724,.872,.714,.887,.722,.895,.703,.91,.714,.929,.726,.948,.707,.971,.707,.993,.729,.997,.707,
.83,.771,.842,.779,.857,.771,.872,.763,.887,.771,.902,.779,.918,.763,.936,.782,.951,.775,.967,.763,.986,.76,1,.741,.849,.756,.865,.745,.883,.752,.898,.745,.921,.748,.94,.748,.959,.745,.99,.745,.834,.751,.876,.741,.906,.756,.944,.763,.997,.726,.81,.745,.8,.73,.855,.73,.9,.73,.94,.73,.975,.73,.815,.785,.78,.8,.795,.79,.76,.8,.745,.81,.775,.815,
.853,.682,.864,.684,.883,.695,.895,.684,.925,.695,.942,.693,.963,.693,.969,.68,.999,.688,.83,.688,.815,.672,.798,.676,.779,.68,.756,.672,.754,.661,.739,.655,.751,.652,.768,.656,.785,.654,.796,.659,.815,.659,.832,.663,.83,.654,.846,.667,.853,.655,.866,.648,.883,.661,.893,.655,.899,.644,.9,.631,.917,.631,.928,.633,.91,.621,.927,.652,.935,.661,.946,.65,.959,.655,.963,.638,.94,.64,.957,.636,.986,.646,.971,.627,.984,.621,.993,.616,.96,.621,.972,.612,.984,.599,.99,.587,.96,.602,.935,.608,.954,.589,.914,.592,.94,.58,.902,.578,.97,.563,.878,.582,.882,.573,.857,.599,.866,.595,.866,.578,.842,.614,.826,.614,.802,.616,.798,.606,.83,.595,.821,.591,.804,.591,.817,.599,.874,.616,.868,.606,.783,.6,.778,.595,.761,.602,.777,.624,.773,.619,.753,.635,.734,.624,.712,.623,.7,.633,.686,.62,.672,.622,.695,.648,.687,.64,.676,.646,.675,.639,.713,.655,.652,.607,.63,.599,.62,.615,.622,.63,.682,.6,.686,.592,.648,.585,.65,.581,.7,.572,.726,.575,.721,.564,.741,.567,.783,.579,.778,.562,.803,.574,.821,.568,.835,.558,.804,.532,.816,.543,.843,.539,.738,.546,.762,.546,.665,.547,.678,.552,.702,.525,.779,.531,.778,.527,.846,.519,.869,.522,.874,.511,.889,.562,.893,.558,.889,.544,.913,.557,.932,.542,.938,.544,.942,.533,.948,.53,.946,.522,.91,.527,.927,.514,.939,.513,.755,.519,.756,.514,.778,.511,.842,.508,.896,.497,.91,.502,.913,.498,.908,.491,.9,.485,.931,.5,.942,.498,.978,.5,.859,.493,.849,.479,.822,.488,.784,.486,.791,.482,.691,.5,.69,.489,.671,.494,.622,.494,.602,.472,.65,.463,.491,.478,.864,.466,.883,.46,.896,.467,.917,.47,.712,.446,.829,.438,.938,.434,
.79,.9,.78,.885,.77,.87,.765,.855,.755,.84,.76,.825,.775,.82,.79,.81,.805,.805,.82,.795,.835,.785,.85,.78,.865,.775,.88,.78,.895,.79,.91,.795,.925,.805,.94,.81,.955,.8,.97,.78,.985,.775,.995,.76,.8,.91,.815,.925,.83,.945,.85,.955,.87,.965,.89,.975,.91,.975,.93,.985,.945,.995,.96,1,.98,1.002,
.74,.86,.73,.875,.745,.88,.76,.89,.755,.9,.77,.91,.78,.92,.795,.93,.81,.945,.825,.96,.84,.965,.86,.98,.885,.985,.9,.99,.74,.84,.725,.855,.71,.86,.73,.81,.75,.81,.765,.8,.78,.79,.8,.78,.82,.77,.84,.76,.86,.755,.88,.75,.9,.765,.915,.775,.93,.77,.95,.76,.965,.75,.98,.755,.995,.74,.77,.77,.785,.76,.8,.75,.82,.735,.84,.73,.86,.72,.88,.73,.9,.72,.92,.735,.94,.72,.96,.72,.98,.71];

// Panel geometry
const axesScatterA = {left: 330, right: 1944, top: 138, bottom: 1753};
const axesScatterB = {left: 332, right: 1948, top: 2065, bottom: 3682};
const NS = 'http://www.w3.org/2000/svg';
const xScale = (ax, v) => ax.left + v * (ax.right - ax.left);
const yScale = (ax, v) => ax.bottom - v * (ax.bottom - ax.top);

function make(tag, attrs, parent) {
  const el = document.createElementNS(NS, tag);
  for (const k in attrs) el.setAttribute(k, attrs[k]);
  parent.appendChild(el);
  return el;
}

function drawScatterAxes(ax, layer) {
  for (const t of scatterXTicks) {
    if (t > 0 && t < 1) {
      const g = make('line', {x1: xScale(ax, t), x2: xScale(ax, t), y1: ax.top, y2: ax.bottom, stroke: '#dcdcdc', 'stroke-width': 3}, layer);
      
      
    }
  }
  for (const t of scatterYTicks) {
    if (t > 0 && t < 1) {
      const g = make('line', {x1: ax.left, x2: ax.right, y1: yScale(ax, t), y2: yScale(ax, t), stroke: '#dcdcdc', 'stroke-width': 3.5}, layer);
      
      
    }
  }
  const box = make('rect', {x: ax.left, y: ax.top, width: ax.right - ax.left, height: ax.bottom - ax.top, fill: 'none', stroke: '#444', 'stroke-width': 4}, layer);
  
  
  for (const t of scatterXTicks) {
    const x = xScale(ax, t);
    if (t > 0 && t < 1) {
      const tk = make('path', {d: `M${x} ${ax.top}v20M${x} ${ax.bottom}v-20`, stroke: '#444', 'stroke-width': 4}, layer);
      
      
    }
    const lb = make('text', {x: x, y: ax.bottom + 76, 'font-size': 58, 'text-anchor': 'middle'}, layer);
    lb.textContent = String(t);
    
    
  }
  for (const t of scatterYTicks) {
    const y = yScale(ax, t);
    if (t > 0 && t < 1) {
      const tk = make('path', {d: `M${ax.left} ${y}h18M${ax.right} ${y}h-18`, stroke: '#444', 'stroke-width': 4}, layer);
      
      
    }
    const lb = make('text', {x: ax.left - 27, y: y + 19, 'font-size': 58, 'text-anchor': 'end'}, layer);
    lb.textContent = String(t);
    
    
  }
  const diag = make('line', {x1: xScale(ax, 0), y1: yScale(ax, 0), x2: xScale(ax, 1), y2: yScale(ax, 1), stroke: '#000', 'stroke-width': 11, 'stroke-dasharray': '46 53.5', 'stroke-dashoffset': -65}, layer);
  
  
}

function drawPoints(ax, layer, pairs, color, opacity, label) {
  const g = make('g', {fill: color, 'fill-opacity': opacity}, layer);
  
  
  for (let i = 0; i + 1 < pairs.length; i += 2) {
    const c = make('circle', {cx: xScale(ax, pairs[i]).toFixed(1), cy: yScale(ax, pairs[i + 1]).toFixed(1), r: 8.5}, g);
    
    
  }
}

function drawStrip(ax, layer, ys, color, opacity, label) {
  const g = make('g', {fill: color, 'fill-opacity': opacity}, layer);
  
  
  for (const v of ys) {
    const c = make('circle', {cx: xScale(ax, 0), cy: yScale(ax, v).toFixed(1), r: 8.5}, g);
    
    
  }
}

function drawDense(ax, layer, pairs, color, opacity, label, blur) {
  const pts = [];
  for (let i = 0; i + 1 < pairs.length; i += 2) {
    pts.push(xScale(ax, pairs[i]).toFixed(1) + ',' + yScale(ax, pairs[i + 1]).toFixed(1));
  }
  const p = make('polygon', {points: pts.join(' '), fill: color, stroke: color, 'stroke-width': 13, 'stroke-linejoin': 'round', opacity: opacity}, layer);
  p.style.filter = 'blur(' + (blur || 2) + 'px)';
  
  
}

const colBlue = '#0a8fd0', colOrange = '#fb5309', colYellow = '#ffb000', colPink = '#ff0080', colGreen = '#5bac16';

const layerA = document.getElementById('layerA');
drawScatterAxes(axesScatterA, layerA);
drawDense(axesScatterA, layerA, artecHazeA, '#0072c3', .2, 'artec-a-haze', 25);
drawPoints(axesScatterA, layerA, artecA, colBlue, .75, 'artec-a');
drawStrip(axesScatterA, layerA, artecStripYA, colBlue, .8, 'artec-a');
drawDense(axesScatterA, layerA, artecCoreA, '#0072c3', 1, 'artec-a');
drawDense(axesScatterA, layerA, deadVCoreA, colOrange, 1, 'deadv-a');
drawPoints(axesScatterA, layerA, deadVA, colOrange, .55, 'deadv-a');
drawPoints(axesScatterA, layerA, erynMA, colYellow, .7, 'erynm-a');
drawDense(axesScatterA, layerA, paroACoreA, colPink, 1, 'paroa-a');
drawDense(axesScatterA, layerA, sandBHazeOuterA, colGreen, .28, 'sandb-a-outer-haze', 22);
drawDense(axesScatterA, layerA, sandBHazeInnerA, colGreen, .5, 'sandb-a-inner-haze', 14);
drawPoints(axesScatterA, layerA, sandBA, colGreen, .55, 'sandb-a');
drawDense(axesScatterA, layerA, sandBCoreA, colGreen, 1, 'sandb-a', 4);

const layerB = document.getElementById('layerB');
drawScatterAxes(axesScatterB, layerB);
drawPoints(axesScatterB, layerB, artecB, colBlue, .75, 'artec-b');
drawStrip(axesScatterB, layerB, artecStripYB, colBlue, .85, 'artec-b');
drawPoints(axesScatterB, layerB, cladFB, colOrange, .55, 'cladf-b');
drawPoints(axesScatterB, layerB, deadVB, colYellow, .6, 'deadv-b');
drawDense(axesScatterB, layerB, heliIHazeB, colPink, .3, 'helii-b-haze', 16);
drawPoints(axesScatterB, layerB, heliIB, colPink, .58, 'helii-b');
drawDense(axesScatterB, layerB, heliICoreB, colPink, 1, 'helii-b', 4);
drawDense(axesScatterB, layerB, sandBHazeLowB, colGreen, .35, 'sandb-b-low-haze', 16);
drawDense(axesScatterB, layerB, sandBHazeLeftB, colGreen, .28, 'sandb-b-left-haze', 16);
drawPoints(axesScatterB, layerB, sandBB, colGreen, .55, 'sandb-b');
drawDense(axesScatterB, layerB, sandBCoreB, colGreen, 1, 'sandb-b', 4);

// Bar charts
const barColors = ['#0072c3', '#fb5309', '#ffb000', '#ff0080', '#5bac16'];
function drawBars(box, cats, values, ticks, yMax, label) {
  const layer = make('g', {}, document.getElementById('layerBars'));
  
  
  const yS = v => box.bottom - v / yMax * (box.bottom - box.top);
  const step = (box.right - box.left - 2 * 100) / (cats.length - 1);
  const xC = i => box.left + 100 + i * step;
  cats.forEach((c, i) => {
    const g = make('line', {x1: xC(i), x2: xC(i), y1: box.top, y2: box.bottom, stroke: '#000', 'stroke-width': 3, 'stroke-dasharray': '3 27'}, layer);
    
    
    const tk = make('line', {x1: xC(i), x2: xC(i), y1: box.top, y2: box.top + 10, stroke: '#000', 'stroke-width': 3}, layer);
    
    
  });
  ticks.forEach(t => {
    const y = yS(t);
    if (t > 0 && t < yMax * .99) {
      const g = make('line', {x1: box.left, x2: box.right, y1: y, y2: y, stroke: '#000', 'stroke-width': 3, 'stroke-dasharray': '3 27'}, layer);
      
      
      const tk = make('path', {d: `M${box.left} ${y}h10M${box.right} ${y}h-10`, stroke: '#000', 'stroke-width': 4}, layer);
      
      
    }
    const lb = make('text', {x: box.left - 26, y: y + 20, 'font-size': 60, 'text-anchor': 'end', style: 'fill:#000'}, layer);
    lb.textContent = String(t);
    
    
  });
  values.forEach((v, i) => {
    const y = yS(v);
    const r = make('rect', {x: xC(i) - 81.5, y: y, width: 163, height: box.bottom - y, fill: barColors[i], stroke: '#000', 'stroke-width': 3.5}, layer);
    
    
    const lb = make('text', {'font-size': 66, 'text-anchor': 'end', style: 'fill:#000', transform: `translate(${xC(i) + 22} ${box.bottom + 14}) rotate(-90)`}, layer);
    lb.textContent = cats[i];
    
    
  });
  const frame = make('rect', {x: box.left, y: box.top, width: box.right - box.left, height: box.bottom - box.top, fill: 'none', stroke: '#000', 'stroke-width': 4}, layer);
  
  
}

drawBars({left: 2182, right: 3189, top: 144, bottom: 797}, categoriesA, codValuesA, codTicks, 1, 'cod-chart-a');
drawBars({left: 2182, right: 3189, top: 1069, bottom: 1721}, categoriesA, rmseValuesA, rmseTicksA, 0.12, 'rmse-chart-a');
drawBars({left: 2182, right: 3189, top: 2070, bottom: 2724}, categoriesB, codValuesB, codTicks, 1, 'cod-chart-b');
drawBars({left: 2182, right: 3189, top: 2996, bottom: 3650}, categoriesB, rmseValuesB, rmseTicksB, 0.079, 'rmse-chart-b');
</script>
</body>
</html>
